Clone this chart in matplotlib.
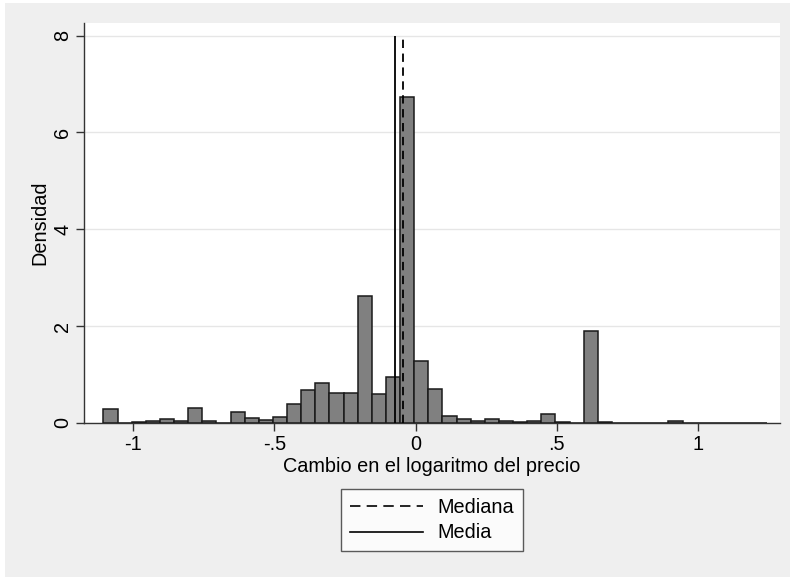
import numpy as np
import matplotlib
matplotlib.use("Agg")
import matplotlib.pyplot as plt
from matplotlib.lines import Line2D
from matplotlib.patches import Rectangle

plt.rcParams['font.family'] = ['Liberation Sans', 'DejaVu Sans']
plt.rcParams['lines.scale_dashes'] = False

# histogram of log price change (density), bin width 0.05
bin_start = -1.105
bin_width = 0.05
density = [0.29, 0.01, 0.03, 0.04, 0.08, 0.035, 0.32, 0.035, 0.01, 0.235,
           0.10, 0.06, 0.12, 0.39, 0.68, 0.83, 0.61, 0.61, 2.62, 0.59,
           0.94, 6.73, 1.29, 0.71, 0.145, 0.083, 0.05, 0.09, 0.04, 0.02,
           0.04, 0.18, 0.02, 0.0, 1.91, 0.025, 0.0, 0.01, 0.01, 0.0,
           0.04, 0.005, 0.005, 0.0, 0.005, 0.0, 0.005]
mediana = -0.044
media = -0.073

xticks = [-1, -0.5, 0, 0.5, 1]
xticklabels = ['-1', '-.5', '0', '.5', '1']
yticks = [0, 2, 4, 6, 8]

bg = '#efefef'
fs = 14.3

fig = plt.figure(figsize=(7.9, 5.77), dpi=100)
fig.patch.set_facecolor('white')
fig.patches.append(Rectangle((5 / 790, 0), 785 / 790, 574 / 577, transform=fig.transFigure,
                             facecolor=bg, edgecolor='none', zorder=-10))

ax = fig.add_axes([84 / 790, 1 - 423 / 577, (780 - 84) / 790, (423 - 23) / 577])
ax.set_facecolor('white')

edges = bin_start + bin_width * np.arange(len(density))
ax.bar(edges, density, width=bin_width, align='edge', color='#808080',
       edgecolor='#1a1a1a', linewidth=1.1, zorder=3)

ax.vlines(mediana, 0, 8, colors='black', linestyles=(0, (6, 4)), linewidth=1.3, zorder=4)
ax.vlines(media, 0, 8, colors='black', linewidth=1.3, zorder=4)

ax.set_xlim(-1.174, 1.29)
ax.set_ylim(0, 8.26)
ax.set_xticks(xticks)
ax.set_xticklabels(xticklabels, fontsize=fs)
ax.set_yticks(yticks)
ax.set_yticklabels([str(v) for v in yticks], fontsize=fs, rotation=90, va='center')
ax.tick_params(axis='both', length=5.5, width=1, color='#333333', pad=3)
ax.grid(axis='y', color='#e6e6e6', linewidth=1, zorder=0)
ax.set_axisbelow(True)

for s in ['top', 'right']:
    ax.spines[s].set_visible(False)
for s in ['left', 'bottom']:
    ax.spines[s].set_color('#333333')
    ax.spines[s].set_linewidth(1)

ax.set_xlabel('Cambio en el logaritmo del precio', fontsize=fs, labelpad=2)
ax.set_ylabel('Densidad', fontsize=fs, labelpad=3)

handles = [Line2D([], [], color='black', linestyle=(0, (7.5, 4.5)), linewidth=1.2),
           Line2D([], [], color='black', linewidth=1.2)]
leg = fig.legend(handles, ['Mediana', 'Media'], loc='center',
                 bbox_to_anchor=(432 / 790, 1 - 520 / 577), fontsize=fs,
                 frameon=True, fancybox=False, handlelength=3.7, handletextpad=0.7,
                 labelspacing=0.35, borderpad=0.45, borderaxespad=0)
leg.get_frame().set_edgecolor('#333333')
leg.get_frame().set_linewidth(1)
leg.get_frame().set_facecolor('white')

fig.savefig('out.png', dpi=100, facecolor=fig.get_facecolor())
